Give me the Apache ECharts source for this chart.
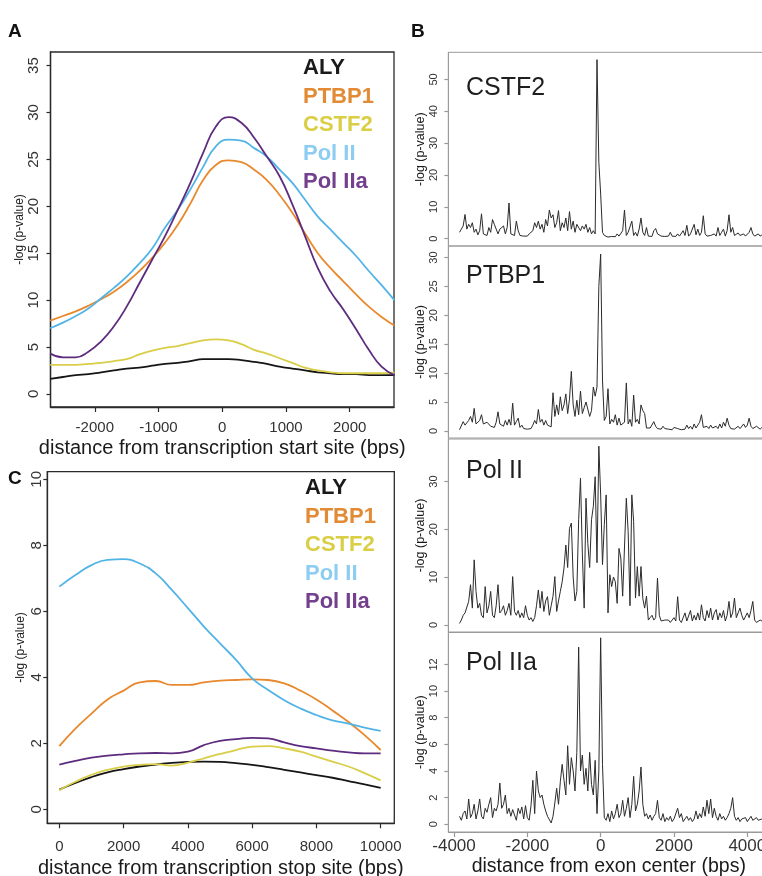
<!DOCTYPE html>
<html><head><meta charset="utf-8">
<script src="https://cdn.jsdelivr.net/npm/echarts@6/dist/echarts.min.js"></script>
<style>html,body{margin:0;padding:0;background:#fff}#c{width:762px;height:876px}</style>
</head><body><div id="c"></div>
<script>
// ---------- names & colours ----------
const seriesNames = ['ALY', 'PTBP1', 'CSTF2', 'Pol II', 'Pol IIa'];
const lineColors = ['#151515', '#E8892E', '#D8CE48', '#52B4E6', '#5E2C7E'];
const legendColors = ['#1a1a1a', '#E38A34', '#D9CE44', '#8DCDF2', '#74408E'];

// ---------- Panel A: transcription start site ----------
const tssPos = [-2700,-2500,-2300,-2100,-1900,-1700,-1500,-1300,-1100,-900,-700,-500,-300,-100,100,300,500,700,900,1100,1300,1500,1700,1900,2100,2300,2500,2700];
const tssALY = [1.6,1.8,2.0,2.1,2.3,2.5,2.7,2.8,3.0,3.2,3.3,3.5,3.7,3.7,3.7,3.6,3.4,3.2,2.9,2.7,2.5,2.3,2.2,2.1,2.1,2.0,2.0,2.0];
const tssPTBP1 = [7.8,8.3,8.8,9.4,10.1,10.9,11.9,13.1,14.5,16.1,18.0,20.3,22.8,24.4,24.9,24.7,23.9,22.8,21.2,19.3,17.1,15.0,13.4,12.0,10.6,9.3,8.2,7.3];
const tssCSTF2 = [3.1,3.1,3.1,3.2,3.3,3.5,3.7,4.2,4.6,4.9,5.1,5.4,5.7,5.8,5.7,5.3,4.7,4.3,3.8,3.3,2.8,2.5,2.3,2.2,2.2,2.2,2.2,2.3];
const tssPolII = [7.0,7.6,8.3,9.1,10.2,11.3,12.5,13.9,15.5,17.7,19.6,21.8,24.2,26.4,27.1,27.0,26.2,25.3,23.9,22.5,20.7,18.9,17.5,16.1,14.7,13.1,11.6,10.0];
const tssPolIIa = [4.3,3.9,3.9,4.5,5.6,7.2,9.3,11.8,14.3,16.8,19.6,22.5,25.7,28.5,29.5,28.9,27.3,25.3,23.2,20.2,16.8,13.4,10.9,9.0,6.9,4.7,2.9,2.0];
const tssXTicks = [-2000,-1000,0,1000,2000];
const tssYTicks = [0,5,10,15,20,25,30,35];

// ---------- Panel C: transcription stop site ----------
const ttsPos = [0,500,1000,1500,2000,2500,3000,3500,4000,4500,5000,5500,6000,6500,7000,7500,8000,8500,9000,9500,10000];
const ttsALY = [0.6,0.8,0.98,1.12,1.22,1.3,1.36,1.41,1.44,1.45,1.44,1.4,1.35,1.28,1.2,1.12,1.04,0.96,0.86,0.76,0.65];
const ttsPTBP1 = [1.92,2.45,2.9,3.33,3.6,3.85,3.89,3.77,3.77,3.85,3.9,3.92,3.94,3.92,3.82,3.6,3.33,3.0,2.65,2.25,1.8];
const ttsCSTF2 = [0.59,0.84,1.05,1.2,1.3,1.35,1.37,1.33,1.42,1.55,1.68,1.8,1.9,1.92,1.85,1.75,1.6,1.45,1.3,1.1,0.88];
const ttsPolII = [6.75,7.1,7.4,7.56,7.58,7.45,7.15,6.65,6.1,5.54,5.03,4.53,3.97,3.62,3.31,3.06,2.86,2.7,2.6,2.48,2.38];
const ttsPolIIa = [1.36,1.47,1.57,1.63,1.67,1.7,1.71,1.7,1.75,1.95,2.08,2.13,2.17,2.15,2.03,1.92,1.85,1.78,1.73,1.7,1.7];
const ttsXTicks = [0,2000,4000,6000,8000,10000];
const ttsYTicks = [0,2,4,6,8,10];

// ---------- Panel B: exon center ----------
const exonPos = [
-3850,-3800,-3750,-3700,-3650,-3600,-3550,-3500,-3450,-3400,
-3350,-3300,-3250,-3200,-3150,-3100,-3050,-3000,-2950,-2900,
-2850,-2800,-2750,-2700,-2650,-2600,-2550,-2500,-2450,-2400,
-2350,-2300,-2250,-2200,-2150,-2100,-2050,-2000,-1950,-1900,
-1850,-1800,-1750,-1700,-1650,-1600,-1550,-1500,-1450,-1400,
-1350,-1300,-1250,-1200,-1150,-1100,-1050,-1000,-950,-900,
-850,-800,-750,-700,-650,-600,-550,-500,-450,-400,
-350,-300,-250,-200,-150,-100,-50,0,50,100,
150,200,250,300,350,400,450,500,550,600,
650,700,750,800,850,900,950,1000,1050,1100,
1150,1200,1250,1300,1350,1400,1450,1500,1550,1600,
1650,1700,1750,1800,1850,1900,1950,2000,2050,2100,
2150,2200,2250,2300,2350,2400,2450,2500,2550,2600,
2650,2700,2750,2800,2850,2900,2950,3000,3050,3100,
3150,3200,3250,3300,3350,3400,3450,3500,3550,3600,
3650,3700,3750,3800,3850,3900,3950,4000,4050,4100,
4150,4200,4250,4300,4350,4400];
const exonCSTF2 = [
2.0,2.5,4.0,7.6,3.0,4.5,3.5,5.0,2.0,3.0,
1.2,2.5,7.8,1.5,2.0,1.0,3.5,2.0,6.0,4.5,
5.0,1.5,3.0,2.5,4.0,1.5,3.5,11.2,1.5,2.0,
1.0,5.5,2.5,1.0,1.5,0.8,1.0,0.8,1.5,1.0,
2.5,5.0,3.5,5.5,3.0,4.5,2.0,6.0,4.0,9.0,
6.5,7.5,3.5,5.0,8.8,2.5,5.0,3.5,6.5,2.5,
8.5,3.0,5.5,2.0,4.5,5.0,2.5,4.0,3.0,4.5,
2.0,3.5,1.5,2.5,1.5,56.2,24,14,2.0,1.0,
0.8,0.5,1.0,0.7,1.2,0.6,1.5,0.8,1.0,2.5,
9.0,1.0,2.0,1.5,5.5,1.0,2.0,0.8,3.0,6.5,
2.0,1.0,3.5,0.8,1.0,0.7,2.5,3.2,1.5,1.0,
0.8,1.2,0.7,1.0,0.8,2.0,0.8,1.0,0.7,1.5,
0.8,1.0,2.5,1.0,4.2,0.8,1.5,1.0,4.5,1.2,
3.0,1.0,2.0,7.2,1.5,0.8,0.6,1.0,0.7,1.5,
0.8,3.5,1.0,2.0,3.0,0.8,2.5,7.5,2.0,3.5,
1.0,0.6,1.8,1.0,0.6,1.5,0.8,0.6,2.0,3.5,
1.5,0.8,0.6,1.5,0.8,1.2];
const exonPTBP1 = [
0.2,0.3,1.6,1.0,0.7,1.8,2.5,1.5,3.9,1.2,
1.0,1.8,2.8,1.2,1.0,1.5,1.8,0.8,1.0,0.6,
1.5,3.3,1.2,1.5,0.8,1.8,1.0,2.0,1.0,4.8,
1.0,1.6,2.2,0.6,1.0,0.4,0.6,0.3,0.5,0.4,
1.0,1.8,1.2,3.7,1.5,2.0,1.0,1.8,1.0,0.8,
0.7,6.6,2.5,4.5,2.8,5.9,3.5,4.5,6.4,3.0,
5.5,10.3,4.5,2.5,5.3,2.8,6.9,3.0,4.0,5.0,
4.8,2.5,3.5,7.6,6.0,7.6,25.0,30.6,8.8,1.8,
2.5,7.3,1.2,2.0,1.5,2.8,1.0,2.2,1.0,0.8,
1.5,8.3,1.2,2.0,0.8,6.2,1.5,2.0,1.2,4.5,
3.5,3.0,0.5,0.3,0.5,0.4,1.6,0.8,0.4,0.5,
0.3,0.8,0.4,0.6,0.3,0.5,0.2,0.6,0.3,0.4,
0.3,0.2,0.5,0.3,1.0,0.4,0.8,0.3,1.2,0.5,
0.4,1.5,2.8,0.6,0.3,0.8,0.4,1.0,0.5,0.3,
0.8,0.4,1.2,0.5,1.5,0.8,2.2,1.0,0.4,0.6,
0.3,0.5,0.8,0.4,0.3,1.2,0.6,1.0,2.2,0.8,
0.4,0.3,0.8,0.5,0.3,0.6];
const exonPolII = [
0.3,1.0,2.0,2.5,2.8,4.9,8.4,3.5,13.6,7.0,
3.5,4.5,2.0,1.5,8.0,2.5,4.0,7.0,2.0,1.5,
4.0,8.4,2.5,3.0,4.0,2.0,3.0,4.5,2.0,10.1,
2.8,2.0,3.0,1.5,2.5,1.5,4.0,2.0,1.0,1.5,
0.7,1.5,4.0,7.3,3.5,7.0,2.8,5.0,5.9,2.0,
4.0,6.0,10.1,2.8,5.0,7.0,9.0,11.9,16.7,12.0,
20.2,21.3,10.0,5.0,7.0,22.0,30.7,15.0,3.5,26.5,
17.0,12.0,22.0,24.8,31.0,13.0,37.4,27.2,12.6,21.0,
27.2,2.5,10.5,8.0,10.0,9.0,4.5,16.0,14.0,6.0,
5.6,26.5,19.5,4.0,27.2,21.6,5.6,12.2,6.0,12.2,
5.5,3.5,6.0,1.0,1.5,2.0,1.0,1.5,9.8,2.0,
0.8,0.5,1.0,0.7,1.0,0.5,0.8,1.5,0.8,5.9,
1.0,0.5,1.5,2.5,0.8,1.2,3.0,0.8,2.0,1.0,
2.5,1.0,4.2,1.5,0.8,3.0,1.5,3.5,1.0,2.5,
3.2,1.0,2.5,1.5,3.0,0.8,2.0,4.9,1.5,2.5,
5.6,1.5,2.5,3.5,2.0,1.0,0.8,2.5,1.5,3.0,
4.9,1.0,0.5,0.8,1.0,0.8];
const exonPolIIa = [
0.6,0.3,0.8,1.0,0.4,1.9,0.5,0.8,1.5,0.4,
1.0,1.9,0.6,0.4,1.2,0.9,1.5,2.0,0.5,1.2,
1.0,1.5,3.1,1.2,1.5,2.2,0.8,1.2,0.6,1.1,
1.0,0.3,1.2,0.8,1.3,0.4,1.4,0.5,0.3,1.4,
3.3,0.8,4.0,2.5,2.0,2.2,1.5,1.0,0.6,0.5,
0.1,0.6,1.6,2.7,1.5,3.2,4.5,3.3,2.2,5.9,
3.0,5.0,4.0,2.5,5.4,13.3,4.0,5.2,3.0,4.2,
2.5,5.4,3.0,2.2,4.8,0.8,4.0,14.0,4.5,0.5,
0.3,0.8,0.2,1.0,0.4,0.8,1.5,0.5,0.8,1.8,
0.6,1.2,2.0,0.5,1.5,3.6,1.0,1.5,2.5,4.3,
1.5,0.6,0.8,0.4,0.7,0.3,0.6,0.8,1.8,0.5,
0.3,0.8,0.2,0.5,0.3,0.6,0.2,0.4,0.3,1.2,
0.5,0.8,0.2,0.4,0.6,0.3,0.5,0.2,0.4,1.0,
0.4,0.8,0.5,1.3,0.6,1.8,0.8,1.9,0.5,1.2,
0.6,0.3,0.8,0.4,0.6,0.3,0.5,0.8,1.2,2.0,
0.6,0.3,0.5,0.2,0.4,0.3,0.5,0.2,0.4,0.6,
0.3,0.2,0.5,0.3,0.2,0.4];
const exonXTicks = [-4000,-2000,0,2000,4000];
const exonPanels = [
  { label: 'CSTF2', values: exonCSTF2, ticks: [0,10,20,30,40,50] },
  { label: 'PTBP1', values: exonPTBP1, ticks: [0,5,10,15,20,25,30] },
  { label: 'Pol II', values: exonPolII, ticks: [0,10,20,30] },
  { label: 'Pol IIa', values: exonPolIIa, ticks: [0,2,4,6,8,10,12] }
];

// ---------- layout (styles, not data) ----------
const FONT = 'Liberation Sans, Arial, Helvetica, sans-serif';
const fmt = v => String(v);
const zip = (xs, ys) => xs.map((x, i) => [x, ys[i]]);
const bGrids = [
  { top: 52.3, height: 193.7, ymin: -2.3, ymax: 58.5, labelTop: 75.5 },
  { top: 246, height: 192, ymin: -1.23, ymax: 32.0, labelTop: 264 },
  { top: 439, height: 193, ymin: -1.5, ymax: 38.9, labelTop: 459 },
  { top: 632.5, height: 199.5, ymin: -0.58, ymax: 14.4, labelTop: 651 }
];

const gridBase = { show: true, backgroundColor: 'transparent', containLabel: false, outerBoundsMode: 'none' };
const grid = [
  Object.assign({ left: 50.5, top: 52, width: 343.5, height: 355, borderColor: '#2a2a2a', borderWidth: 1.3 }, gridBase),
  Object.assign({ left: 47.3, top: 471.7, width: 347, height: 351.6, borderColor: '#2a2a2a', borderWidth: 1.3 }, gridBase)
];
bGrids.forEach(g => grid.push(Object.assign({ left: 448.3, top: g.top, width: 321, height: g.height, borderColor: '#9a9a9a', borderWidth: 1 }, gridBase)));

function xAx(gi, min, max, ticks, name, o) {
  const on = o.showTicks !== false;
  return {
    gridIndex: gi, type: 'value', min, max, position: 'bottom',
    axisLine: { show: on, onZero: false, lineStyle: { color: o.tickColor, width: o.lineWidth } }, splitLine: { show: false },
    axisTick: { show: on, customValues: ticks, length: 5, inside: false, lineStyle: { color: o.tickColor, width: 1.2 } },
    axisLabel: { show: on, customValues: ticks, formatter: fmt, fontSize: o.labelSize, color: '#333', margin: o.margin, fontFamily: FONT, hideOverlap: false },
    name: name, nameLocation: 'middle', nameGap: o.nameGap, nameMoveOverlap: false,
    nameTextStyle: { fontSize: o.nameSize, color: '#1a1a1a', fontFamily: FONT }
  };
}
function yAx(gi, min, max, ticks, o) {
  return {
    gridIndex: gi, type: 'value', min, max, position: 'left',
    axisLine: { show: true, onZero: false, lineStyle: { color: o.tickColor, width: o.lineWidth } }, splitLine: { show: false },
    axisTick: { show: true, customValues: ticks, length: 4, inside: false, lineStyle: { color: o.tickColor, width: 1.2 } },
    axisLabel: { customValues: ticks, formatter: fmt, rotate: 90, fontSize: o.labelSize, color: '#333', margin: o.margin, fontFamily: FONT, hideOverlap: false },
    name: '-log (p-value)', nameLocation: 'middle', nameGap: o.nameGap, nameRotate: 90, nameMoveOverlap: false,
    nameTextStyle: { fontSize: o.nameSize, color: '#1a1a1a', fontFamily: FONT }
  };
}

const xAxis = [
  xAx(0, -2695, 2695, tssXTicks, 'distance from transcription start site (bps)', { tickColor: '#2a2a2a', lineWidth: 1.3, labelSize: 15, margin: 13, nameGap: 31, nameSize: 20 }),
  xAx(1, -375, 10425, ttsXTicks, 'distance from transcription stop site (bps)', { tickColor: '#2a2a2a', lineWidth: 1.3, labelSize: 15, margin: 16, nameGap: 35, nameSize: 20 })
];
const yAxis = [
  yAx(0, -1.4, 36.45, tssYTicks, { tickColor: '#2a2a2a', lineWidth: 1.3, labelSize: 15, margin: 9, nameGap: 24.5, nameSize: 12 }),
  yAx(1, -0.42, 10.23, ttsYTicks, { tickColor: '#2a2a2a', lineWidth: 1.3, labelSize: 15, margin: 3, nameGap: 21, nameSize: 12 })
];
bGrids.forEach((g, i) => {
  const last = i === bGrids.length - 1;
  xAxis.push(xAx(2 + i, -4156, 4600, exonXTicks, last ? 'distance from exon center (bps)' : '', { showTicks: last, tickColor: '#9a9a9a', lineWidth: 1, labelSize: 17, margin: 6, nameGap: 25, nameSize: 19.5 }));
  yAxis.push(yAx(2 + i, g.ymin, g.ymax, exonPanels[i].ticks, { tickColor: '#9a9a9a', lineWidth: 1, labelSize: 11, margin: 9, nameGap: 21, nameSize: 12.5 }));
});

const series = [];
const tssSets = [tssALY, tssPTBP1, tssCSTF2, tssPolII, tssPolIIa];
const ttsSets = [ttsALY, ttsPTBP1, ttsCSTF2, ttsPolII, ttsPolIIa];
seriesNames.forEach((n, i) => {
  series.push({ name: n, type: 'line', xAxisIndex: 0, yAxisIndex: 0, data: zip(tssPos, tssSets[i]), smooth: 0.5, showSymbol: false, lineStyle: { color: lineColors[i], width: 1.8 }, itemStyle: { color: lineColors[i] }, silent: true });
  series.push({ name: n, type: 'line', xAxisIndex: 1, yAxisIndex: 1, data: zip(ttsPos, ttsSets[i]), smooth: 0.5, showSymbol: false, lineStyle: { color: lineColors[i], width: 1.8 }, itemStyle: { color: lineColors[i] }, silent: true });
});
exonPanels.forEach((p, i) => {
  series.push({ name: 'exon ' + p.label, type: 'line', xAxisIndex: 2 + i, yAxisIndex: 2 + i, data: zip(exonPos, p.values), showSymbol: false, lineStyle: { color: '#2b2b2b', width: 1 }, silent: true });
});

const legendData = seriesNames.map((n, i) => ({ name: n, textStyle: { color: legendColors[i] } }));
const legendBase = {
  orient: 'vertical', itemWidth: 0, itemHeight: 28.5, itemGap: 0, padding: 0, icon: 'rect',
  itemStyle: { color: 'rgba(0,0,0,0)', borderWidth: 0 }, selectedMode: false,
  textStyle: { fontSize: 22, fontWeight: 'bold', fontFamily: FONT }, data: legendData
};

const letterStyle = { fontSize: 19, fontWeight: 'bold', color: '#111', fontFamily: FONT };
const title = [
  { text: 'A', left: 8, top: 22, padding: 0, textStyle: letterStyle },
  { text: 'B', left: 411, top: 22, padding: 0, textStyle: letterStyle },
  { text: 'C', left: 8, top: 469, padding: 0, textStyle: letterStyle }
];
exonPanels.forEach((p, i) => title.push({ text: p.label, left: 466, top: bGrids[i].labelTop, padding: 0, textStyle: { fontSize: 25, fontWeight: 'normal', color: '#1e1e1e', fontFamily: FONT } }));

const chart = echarts.init(document.getElementById('c'), null, { renderer: 'canvas' });
chart.setOption({
  animation: false,
  backgroundColor: '#fff',
  textStyle: { fontFamily: FONT },
  title,
  legend: [Object.assign({}, legendBase, { left: 298, top: 54 }), Object.assign({}, legendBase, { left: 300, top: 474 })],
  grid, xAxis, yAxis, series
});
</script></body></html>
